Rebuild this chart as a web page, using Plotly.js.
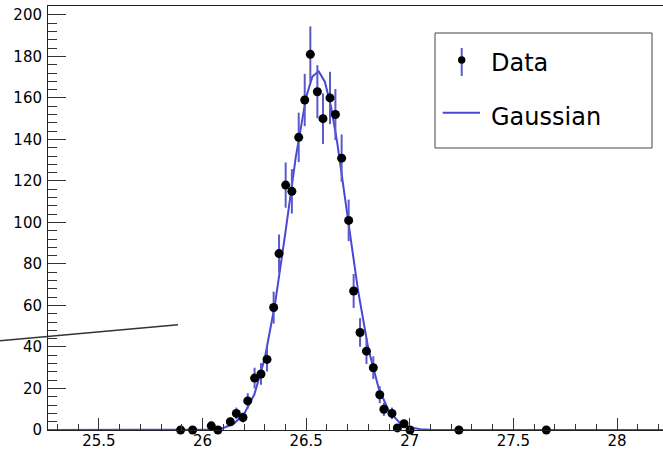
<!DOCTYPE html>
<html>
<head>
<meta charset="utf-8">
<script src="https://cdn.plot.ly/plotly-3.0.1.min.js"></script>
<style>html,body{margin:0;padding:0;background:#fff;}#chart{width:663px;height:449px;}</style>
</head>
<body>
<div id="chart"></div>
<script>
// Data points (bin centres and counts)
const xData = [25.894, 25.952, 26.042, 26.074, 26.134, 26.163, 26.195, 26.218, 26.251, 26.282,
               26.311, 26.343, 26.369, 26.401, 26.431, 26.464, 26.493, 26.520, 26.554, 26.581,
               26.615, 26.641, 26.671, 26.705, 26.729, 26.760, 26.791, 26.824, 26.855, 26.875,
               26.914, 26.940, 26.972, 27.001, 27.237, 27.659];
const yData = [0, 0, 2, 0, 4, 8, 6, 14, 25, 27,
               34, 59, 85, 118, 115, 141, 159, 181, 163, 150,
               160, 152, 131, 101, 67, 47, 38, 30, 17, 10,
               8, 1, 3, 0, 0, 0];
const yErr  = [0, 0, 1.4, 0, 2.0, 2.8, 2.4, 3.7, 5.0, 5.2,
               5.8, 7.7, 9.2, 10.9, 10.7, 11.9, 12.6, 13.5, 12.8, 12.2,
               12.6, 12.3, 11.4, 10.0, 8.2, 6.9, 6.2, 5.5, 4.1, 3.2,
               2.8, 1.0, 1.7, 0, 0, 0];

const xCurve = [25.254, 25.9, 26.0, 26.05, 26.1, 26.15, 26.2, 26.25, 26.3, 26.35,
                26.4, 26.45, 26.5, 26.53, 26.56, 26.59, 26.62, 26.65, 26.7, 26.75,
                26.8, 26.85, 26.9, 26.95, 27.0, 27.05, 27.1, 27.2, 28.222];
const yCurve = [0, 0, 0.1, 0.3, 1.0, 3.0, 7.6, 17.2, 34.5, 61.0,
                95.3, 131.6, 160.5, 170.3, 172.9, 167.8, 155.8, 138.3, 102.7, 67.4,
                39.1, 20.0, 9.0, 3.6, 1.3, 0.4, 0.1, 0, 0];

const legendLabels = ['Data', 'Gaussian'];

const W = 663, H = 449;
const M = {l: 48, r: 0, t: 6, b: 19};
const PW = W - M.l - M.r, PH = H - M.t - M.b;
const px = v => (v - M.l) / PW;          // pixel -> paper x
const py = v => (H - M.b - v) / PH;      // pixel -> paper y

const curveColor = 'rgb(72,72,215)';
const errColor = 'rgb(90,90,205)';
const font = 'DejaVu Sans, Liberation Sans, Arial, sans-serif';

const traces = [
  {
    x: xCurve, y: yCurve, type: 'scatter', mode: 'lines',
    line: {color: curveColor, width: 2}, name: legendLabels[1],
    hoverinfo: 'skip', cliponaxis: true
  },
  {
    x: xData, y: yData, type: 'scatter', mode: 'markers',
    marker: {color: 'black', size: 9},
    error_y: {type: 'data', array: yErr, visible: true, color: errColor, thickness: 2, width: 0},
    name: legendLabels[0], cliponaxis: false
  }
];

const layout = {
  width: W, height: H,
  margin: M,
  paper_bgcolor: 'white', plot_bgcolor: 'white',
  showlegend: false,
  font: {family: font, color: 'black', size: 15},
  xaxis: {
    range: [25.254, 28.222],
    showgrid: false, zeroline: false,
    showline: true, linecolor: '#222', linewidth: 1, mirror: true,
    ticks: 'inside', ticklen: 12, tickcolor: '#333', tickwidth: 1,
    dtick: 0.5, tick0: 0,
    minor: {dtick: 0.1, ticks: 'inside', ticklen: 6, tickcolor: '#333', tickwidth: 1, showgrid: false},
    tickfont: {family: font, size: 15, color: 'black'},
    ticklabelstandoff: -3
  },
  yaxis: {
    range: [0, 204.3],
    showgrid: false, zeroline: false,
    showline: true, linecolor: '#222', linewidth: 1, mirror: false,
    ticks: 'inside', ticklen: 18, tickcolor: '#333', tickwidth: 1,
    dtick: 20, tick0: 0,
    minor: {dtick: 4, ticks: 'inside', ticklen: 9, tickcolor: '#333', tickwidth: 1, showgrid: false},
    tickfont: {family: font, size: 15, color: 'black'},
    ticklabelstandoff: 2
  },
  shapes: [
    // stray line at left
    {type: 'line', xref: 'paper', yref: 'paper', x0: px(0), y0: py(340.7), x1: px(178), y1: py(324.8),
     line: {color: '#333', width: 1.5}},
    // legend box
    {type: 'rect', xref: 'paper', yref: 'paper', x0: px(435), x1: px(652), y0: py(33), y1: py(148),
     line: {color: '#444', width: 1}, fillcolor: 'white', layer: 'above'},
    // legend: data error bar
    {type: 'line', xref: 'paper', yref: 'paper', x0: px(461.7), x1: px(461.7), y0: py(48), y1: py(76),
     line: {color: errColor, width: 2}, layer: 'above'},
    // legend: data dot
    {type: 'circle', xref: 'paper', yref: 'paper', x0: px(458), x1: px(465.4), y0: py(56.3), y1: py(63.7),
     line: {color: 'black', width: 0}, fillcolor: 'black', layer: 'above'},
    // legend: gaussian line
    {type: 'line', xref: 'paper', yref: 'paper', x0: px(442.7), x1: px(480), y0: py(112.7), y1: py(112.7),
     line: {color: curveColor, width: 2}, layer: 'above'}
  ],
  annotations: [
    {xref: 'paper', yref: 'paper', x: px(489), y: py(62.7), xanchor: 'left', yanchor: 'middle',
     text: legendLabels[0], showarrow: false, font: {family: font, size: 24, color: 'black'}},
    {xref: 'paper', yref: 'paper', x: px(489), y: py(116.7), xanchor: 'left', yanchor: 'middle',
     text: legendLabels[1], showarrow: false, font: {family: font, size: 24, color: 'black'}}
  ]
};

Plotly.newPlot('chart', traces, layout, {displayModeBar: false, staticPlot: true});
</script>
</body>
</html>
